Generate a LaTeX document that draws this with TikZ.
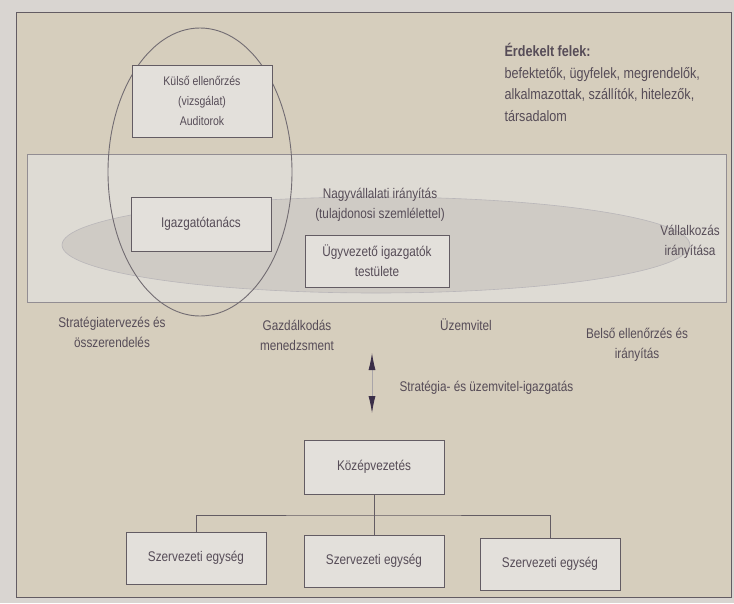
\documentclass[tikz,border=0pt]{standalone}
\usepackage{fontspec}
\setmainfont{Liberation Sans}[FakeStretch=0.84]
\usepackage{tikz}
\usetikzlibrary{positioning, arrows.meta}
\definecolor{paper}{HTML}{D6CEBD}
\definecolor{band}{HTML}{DEDBD4}
\definecolor{shade}{HTML}{CFCBC5}
\definecolor{boxfill}{HTML}{E3E0DB}
\definecolor{ink}{HTML}{635C63}
\definecolor{txt}{HTML}{564C57}
\definecolor{tip}{HTML}{3A2E48}
\tikzset{box/.style = {rectangle,draw=ink,fill=boxfill,line width=0.9pt,minimum width=140pt,minimum height=52pt,align=center,text=txt,font=\fontsize{14}{20}\selectfont},
         label/.style = {align=center,text=txt,font=\fontsize{14}{20}\selectfont}}

\begin{document}
\begin{tikzpicture}[x=1pt,y=-1pt]
        \useasboundingbox (0,0) rectangle (734,603);
        \fill [color=shade!80!white] (0,0) rectangle (734,603);
        \draw [ink,line width=1pt,fill=paper] (16,12) rectangle (731,597);

        % upper part
        \draw [ink!70,line width=0.8pt,fill=band] (27,154) rectangle (726,302);
        \draw [ink!45,line width=0.6pt,fill=shade] (376,245) ellipse [x radius=314,y radius=48];
        \draw [ink!90,line width=0.9pt] (200,172) ellipse [x radius=92,y radius=144];

        \node [box,minimum height=72pt,font=\fontsize{12.5}{20}\selectfont] (kulso) at (202,101) {Külső ellenőrzés\\(vizsgálat)\\Auditorok};
        \node [box,minimum height=54pt] (tanacs) at (201,224) {Igazgatótanács};
        \node [box,minimum width=144pt] (ugyvezeto) at (377,261) {Ügyvezető igazgatók\\testülete};
        \node [label] (nagyv) at (380,205) {Nagyvállalati irányítás\\(tulajdonosi szemlélettel)};
        \node [label] (vallalk) at (690,242) {Vállalkozás\\irányítása};
        \node [label,align=left,anchor=north west,font=\fontsize{15}{21.5}\selectfont] (erdekelt) at (501,40) {\textbf{Érdekelt felek:}\\befektetők, ügyfelek, megrendelők,\\alkalmazottak, szállítók, hitelezők,\\társadalom};

        % functions under the band
        \node [label] (strat) at (112,332) {Stratégiatervezés és\\összerendelés};
        \node [label] (gazd) at (297,335) {Gazdálkodás\\menedzsment};
        \node [label] (uzem) at (466,325) {Üzemvitel};
        \node [label] (belso) at (637,345) {Belső ellenőrzés és\\irányítás};

        \coordinate (fent) at (372,353);
        \coordinate (lent) at (372,413);
        \draw [{Latex[length=17pt,width=7pt,color=tip]}-{Latex[length=17pt,width=7pt,color=tip]},draw=ink!55,line width=0.8pt] (fent) -- (lent);
        \node [label,anchor=west] (igazg) at (396,388) {Stratégia- és üzemvitel-igazgatás};

        % lower part
        \node [box,minimum height=54pt] (kozep) at (374,467) {Középvezetés};
        \node [box] (egyseg1) at (196,558) {Szervezeti egység};
        \node [box] (egyseg2) at (374,561) {Szervezeti egység};
        \node [box] (egyseg3) at (550,564) {Szervezeti egység};

        \coordinate (elag) at (374,515);
        \draw [ink,line width=0.9pt] (kozep.south) -- (egyseg2.north);
        \draw [ink,line width=0.9pt] (egyseg1.north) |- (elag) -| (egyseg3.north);
    \end{tikzpicture}
\end{document}
